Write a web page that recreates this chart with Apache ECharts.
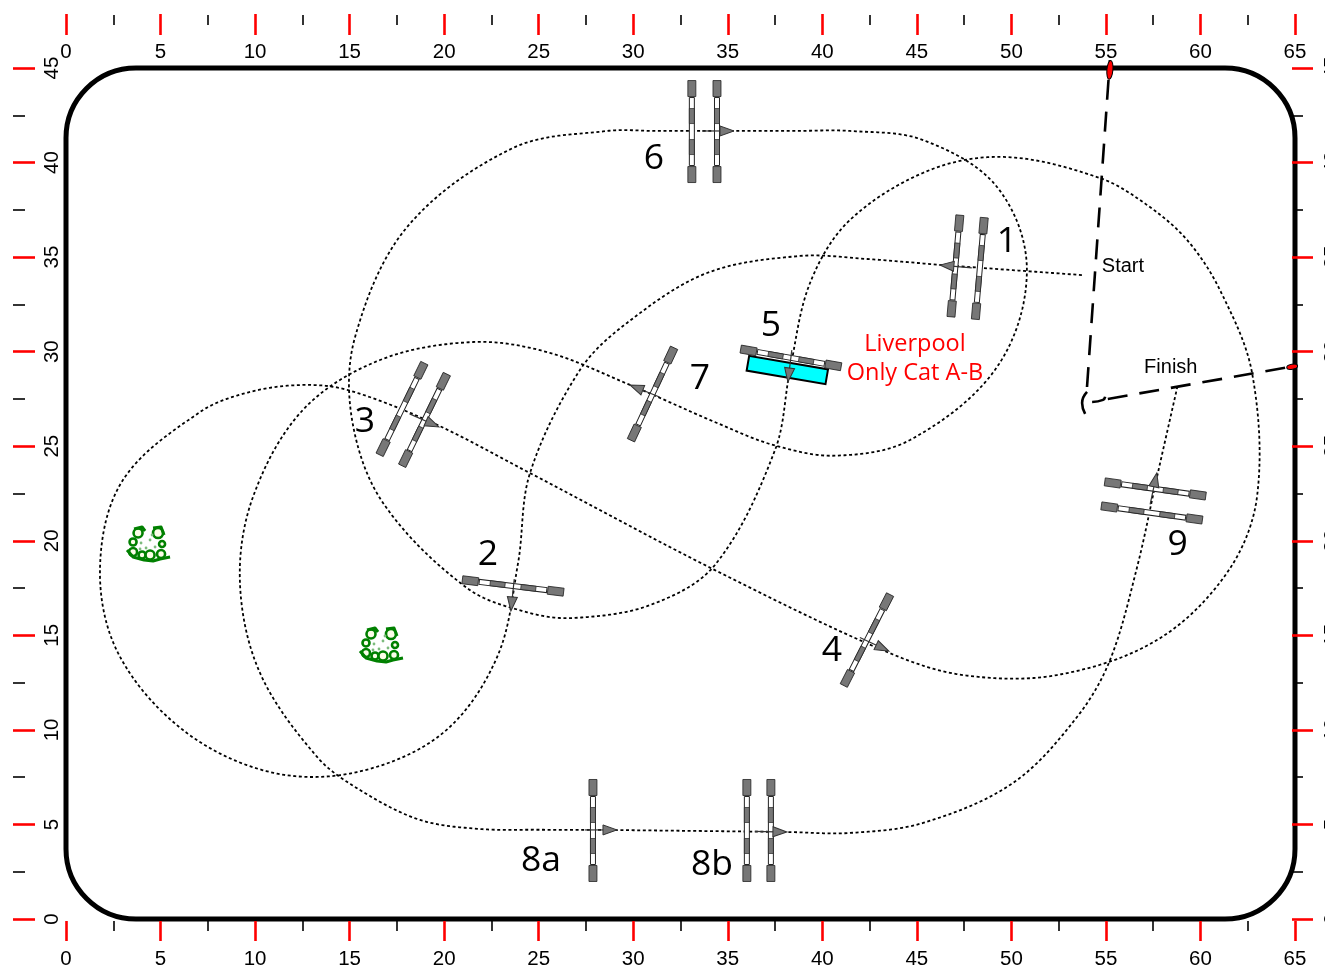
<!DOCTYPE html>
<html><head><meta charset="utf-8">
<style>html,body{margin:0;padding:0;background:#fff;overflow:hidden}#c{width:1325px;height:968px}</style>
<script src="https://cdn.jsdelivr.net/npm/echarts@6/dist/echarts.min.js"></script>
</head><body><div id="c"></div>
<script>
const xMinorTicks = [2.5,7.5,12.5,17.5,22.5,27.5,32.5,37.5,42.5,47.5,52.5,57.5,62.5];
const yMinorTicks = [2.5,7.5,12.5,17.5,22.5,27.5,32.5,37.5,42.5];
const arena = [[0,0,65,45]];
const coursePath = [[53.73,34.05],[46.38,34.58],[42.36,34.90],[38.82,35.06],[33.90,34.16],[29.67,31.52],[27.18,29.03],[24.54,23.58],[23.91,18.83],[22.80,13.85],[19.94,9.84],[15.39,7.77],[10.79,7.77],[6.19,9.99],[2.75,14.07],[1.80,18.61],[3.01,23.21],[7.09,26.81],[9.73,27.87],[12.53,28.24],[14.91,27.97],[19.41,26.23],[24.54,23.58],[34.32,18.45],[43.42,14.12],[47.44,12.90],[52.41,12.90],[57.70,14.75],[61.40,18.30],[62.99,22.32],[62.73,28.87],[61.03,33.26],[59.29,35.91],[57.17,37.76],[54.69,39.18],[49.77,40.29],[45.70,39.61],[41.46,36.96],[39.35,33.63],[38.29,29.03],[37.50,24.80],[34.32,18.72],[30.89,16.60],[26.92,15.92],[24.54,16.18],[21.21,17.50],[16.77,22.00],[15.13,26.39],[15.29,30.78],[18.04,36.59],[23.64,40.77],[28.61,41.67],[31.26,41.67],[35.12,41.67],[38.50,41.67],[41.46,41.67],[45.33,41.19],[49.24,38.71],[50.82,34.32],[49.24,29.19],[44.64,25.33],[40.67,24.50],[37.39,25.07],[34.43,26.23],[29.83,28.24],[25.44,29.98],[21.53,30.51],[16.61,29.56],[12.53,26.92],[9.89,22.32],[9.20,17.77],[10.26,13.01],[13.28,8.57],[15.55,6.82],[18.72,5.24],[21.89,4.76],[25.00,4.72],[28.24,4.71],[33.00,4.66],[38.13,4.60],[41.46,4.55],[45.33,5.08],[50.08,7.19],[53.47,10.68],[55.22,13.70],[56.65,18.61],[57.70,23.37],[58.80,28.24]];
const startLine = [[54.00,28.13],[55.21,45.42]];
const finishLine = [[55.10,27.50],[65,29.24]];
const startHook = [[54.00,27.87],[53.74,27.29],[53.90,26.71]];
const finishHook = [[54.27,27.34],[54.85,27.45],[54.96,27.61]];
const flagPoints = [[55.21,44.9,5,6,19],[64.85,29.2,80,5,11]];
const fences = [[47.04,34.53,5],[48.33,34.40,5],[23.64,17.61,97],[17.77,26.97,26],[18.96,26.39,26],[42.36,14.75,27],[38.34,29.67,100],[33.10,41.64,0],[34.43,41.64,0],[31.02,27.76,25],[27.87,4.68,0],[36.01,4.68,0],[37.28,4.68,0],[57.61,22.74,98],[57.43,21.47,98]];
const waterTray = [[38.15,29.03,9.7]];
const arrows = [[46.22,34.58,185],[23.53,16.29,96],[19.72,26.02,24],[43.52,14.17,25],[38.18,28.40,97],[35.33,41.67,0],[29.82,28.24,202],[29.14,4.71,0],[38.13,4.60,1],[57.69,23.58,282]];
const bushes = [[4.34,19.83],[16.66,14.49]];
const numberLabels = [['1',49.76,35.80],['2',22.32,19.24],['3',15.81,26.28],['4',40.51,14.17],['5',37.28,31.35],['6',31.09,40.19],['7',33.53,28.55],['8a',25.12,3.06],['8b',34.16,2.85],['9',58.80,19.77]];
const redLabels = [['Liverpool',44.90,30.40],['Only Cat A-B',44.90,28.85]];
const blackLabels = [['Start',55.90,34.53],['Finish',58.43,29.14]];

const AXIS_FONT = 'Liberation Sans';
const RAD = Math.PI/180;
const RED = '#ff0000';
const hiddenParts = {axisLine:{show:false},splitLine:{show:false},minorTick:{show:false}};
function labelAxis(grid,pos,max,margin,rotate){
  return Object.assign({type:'value',gridIndex:grid,position:pos,min:0,max,interval:5,axisTick:{show:false},
    axisLabel:{show:true,margin,rotate:rotate||0,color:'#000',fontFamily:AXIS_FONT,fontSize:20.5,hideOverlap:false}},hiddenParts);
}
function tickAxis(grid,pos,max,len,color,width,values){
  return Object.assign({type:'value',gridIndex:grid,position:pos,min:0,max,interval:5,z:8,axisLabel:{show:false},
    axisTick:Object.assign({show:true,length:len,lineStyle:{color,width}},values?{customValues:values}:{})},hiddenParts);
}
function blankAxis(grid,max){
  return {type:'value',gridIndex:grid,show:false,min:0,max};
}
function itemGroup(api,rot,children){
  const p = api.coord([api.value(0),api.value(1)]);
  return {type:'group',x:p[0],y:p[1],rotation:-rot*RAD,children};
}
function renderCourse(params,api){
  if(params.dataIndex!==0) return null;
  const pts=coursePath.map(p=>api.coord(p));
  const n=pts.length;
  const dist=(a,b)=>Math.hypot(a[0]-b[0],a[1]-b[1]);
  const tangent=i=>{
    const a=pts[Math.max(i-1,0)], b=pts[Math.min(i+1,n-1)];
    const d=dist(a,b)||1;
    return [(b[0]-a[0])/d,(b[1]-a[1])/d];
  };
  const out=[pts[0]];
  for(let i=0;i<n-1;i++){
    const p0=pts[i], p3=pts[i+1], L=dist(p0,p3)/3, t0=tangent(i), t1=tangent(i+1);
    const c1=[p0[0]+t0[0]*L,p0[1]+t0[1]*L], c2=[p3[0]-t1[0]*L,p3[1]-t1[1]*L];
    for(let k=1;k<=24;k++){
      const t=k/24,u=1-t;
      out.push([u*u*u*p0[0]+3*u*u*t*c1[0]+3*u*t*t*c2[0]+t*t*t*p3[0],
                u*u*u*p0[1]+3*u*u*t*c1[1]+3*u*t*t*c2[1]+t*t*t*p3[1]]);
    }
  }
  return {type:'polyline',shape:{points:out},style:{fill:'none',stroke:'#000',lineWidth:1.8,lineDash:[3,2.6]}};
}
function renderFence(params,api){
  const stroke='#222', grey='#777';
  const kids=[];
  const rect=(x,y,w,h,fill,lw)=>kids.push({type:'rect',shape:{x,y,width:w,height:h},style:{fill,stroke,lineWidth:lw}});
  rect(-4,-51,8,16,grey,0.8); rect(-4,35,8,16,grey,0.8);
  rect(-2.5,-34,5,68,'#fff',1);
  rect(-2.5,-23,5,15,grey,0.7); rect(-2.5,8,5,15,grey,0.7);
  return itemGroup(api,api.value(2),kids);
}
function renderTray(params,api){
  return itemGroup(api,api.value(2),[{type:'rect',shape:{x:-40,y:-7.5,width:80,height:15},style:{fill:'#00ffff',stroke:'#000',lineWidth:2}}]);
}
function renderArrow(params,api){
  return itemGroup(api,api.value(2),[
    {type:'line',shape:{x1:-32,y1:0,x2:-12,y2:0},style:{stroke:'#333',lineWidth:1.2}},
    {type:'polygon',shape:{points:[[0,0],[-14,-5],[-14,5]]},style:{fill:'#777',stroke:'#333',lineWidth:1}}
  ]);
}
const ringOffsets=[[-10,-11,4.5],[10,-11,5],[-15,-2,3.5],[-15,8,4],[-6,11,3.5],[2,11,4.5],[13,10,4],[14,0,3]];
const bushStrokes=[[[-21,6],[-15,13],[-4,16],[5,17],[12,15],[22,13]],[[-14,-15],[-6,-17],[-3,-13]],[[5,-16],[13,-17],[16,-9]]];
function renderBush(params,api){
  const kids=[];
  ringOffsets.forEach(r=>kids.push({type:'circle',shape:{cx:r[0],cy:r[1],r:r[2]},style:{fill:'#fbfde8',stroke:'#008000',lineWidth:2.6}}));
  bushStrokes.forEach(s=>kids.push({type:'polyline',shape:{points:s},style:{fill:'none',stroke:'#008000',lineWidth:3,lineJoin:'round'}}));
  [[-7,-1],[2,-4],[7,3],[-2,4],[4,-9],[-8,5]].forEach(d=>kids.push({type:'circle',shape:{cx:d[0],cy:d[1],r:1.4},style:{fill:'#7dbb7d'}}));
  return itemGroup(api,0,kids);
}
function renderFrame(params,api){
  const a=api.coord([api.value(0),api.value(1)]), b=api.coord([api.value(2),api.value(3)]);
  return {type:'rect',shape:{x:a[0],y:b[1],width:b[0]-a[0],height:a[1]-b[1],r:70},style:{fill:'none',stroke:'#000',lineWidth:5}};
}
function custom(data,renderItem,z){
  return {type:'custom',xAxisIndex:0,yAxisIndex:0,data,renderItem,z,silent:true,clip:false,encode:{x:0,y:1}};
}
function lineSeries(data,width,dash,smooth){
  return {type:'line',xAxisIndex:0,yAxisIndex:0,data,smooth,showSymbol:false,symbol:'none',clip:false,z:3,silent:true,
    lineStyle:{color:'#000',width,type:dash,cap:'butt'}};
}
function textSeries(list,font,size,color,z){
  return {type:'scatter',xAxisIndex:0,yAxisIndex:0,symbolSize:1,itemStyle:{color:'transparent',opacity:1},z,silent:true,clip:false,
    data:list.map(l=>({name:l[0],value:[l[1],l[2]]})),
    label:{show:true,position:'inside',formatter:p=>p.name,fontFamily:font,fontSize:size,color,align:'center',verticalAlign:'middle'}};
}
const chart=echarts.init(document.getElementById('c'),null,{renderer:'canvas'});
chart.setOption({
  animation:false,backgroundColor:'#fff',
  grid:[
    {left:66,right:30,top:68,bottom:49,outerBoundsMode:'none'},
    {left:66,right:30,top:35,bottom:47,outerBoundsMode:'none'},
    {left:66,right:30,top:25,bottom:47,outerBoundsMode:'none'},
    {left:35,right:33,top:68,bottom:49,outerBoundsMode:'none'},
    {left:25,right:32,top:68,bottom:49,outerBoundsMode:'none'}
  ],
  xAxis:[
    labelAxis(0,'bottom',65,30),
    labelAxis(0,'top',65,5),
    tickAxis(1,'bottom',65,20,RED,2.6),
    tickAxis(1,'top',65,21,RED,2.6),
    tickAxis(2,'bottom',65,10,'#000',1.6,xMinorTicks),
    tickAxis(2,'top',65,10,'#000',1.6,xMinorTicks),
    blankAxis(3,65),
    blankAxis(4,65)
  ],
  yAxis:[
    labelAxis(0,'left',45,3,90),
    labelAxis(0,'right',45,27,90),
    blankAxis(1,45),
    blankAxis(2,45),
    tickAxis(3,'left',45,22,RED,2.6),
    tickAxis(3,'right',45,21,RED,2.6),
    tickAxis(4,'left',45,12,'#000',1.6,yMinorTicks),
    tickAxis(4,'right',45,10,'#000',1.6,yMinorTicks)
  ],
  series:[
    custom(arena,renderFrame,2),
    custom(coursePath,renderCourse,3),
    lineSeries(startLine,2.6,[20,12],false),
    lineSeries(finishLine,2.6,[20,12],false),
    lineSeries(startHook,2.6,'solid',0.5),
    lineSeries(finishHook,2.6,'solid',0.5),
    custom(flagPoints,function(p,api){
      return itemGroup(api,api.value(2),[{type:'ellipse',shape:{cx:0,cy:0,rx:api.value(3)/2,ry:api.value(4)/2},style:{fill:RED,stroke:'#000',lineWidth:1}}]);
    },9),
    custom(waterTray,renderTray,4),
    custom(fences,renderFence,5),
    custom(arrows,renderArrow,6),
    custom(bushes,renderBush,4),
    textSeries(numberLabels,'Open Sans',35.5,'#000',7),
    textSeries(redLabels,'Open Sans',23.5,RED,7),
    textSeries(blackLabels,AXIS_FONT,20,'#000',7)
  ]
});
</script></body></html>
